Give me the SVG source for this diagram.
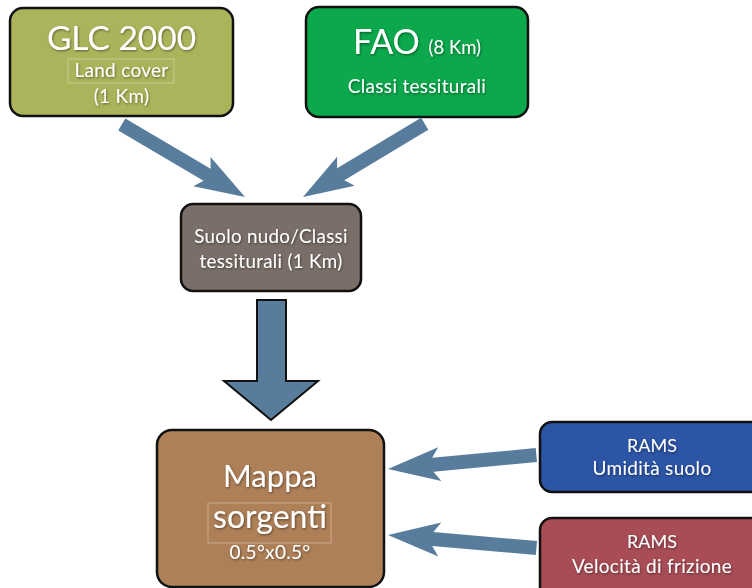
<svg xmlns="http://www.w3.org/2000/svg" width="752" height="588" viewBox="0 0 752 588">
<style>
.box{stroke:#111;stroke-width:2.5}
.t{font-family:Lato,"Open Sans","Liberation Sans",sans-serif;fill:#fff;text-anchor:middle;filter:url(#ts)}
.s{font-size:19px;letter-spacing:0.3px}
.frame{fill:none;stroke:#ffffff;stroke-opacity:0.35;stroke-width:1}
.arr{fill:#587d9c}
</style>
<defs>
<filter id="ts" x="-10%" y="-30%" width="120%" height="160%">
<feDropShadow dx="0.8" dy="1.2" stdDeviation="1" flood-color="#000" flood-opacity="0.45"/>
</filter>
</defs>
<rect width="752" height="588" fill="#fff"/>
<g id="glc">
<rect class="box" x="10" y="8" width="223" height="108" rx="13" fill="#abb45b"/>
<text class="t" x="121.5" y="50" font-size="33.5">GLC 2000</text>
<rect class="frame" x="68" y="59" width="106" height="24"/>
<text class="t s" x="121.5" y="77">Land cover</text>
<text class="t s" x="121.5" y="103">(1 Km)</text>
</g>
<g id="fao">
<rect class="box" x="306" y="7" width="222" height="110" rx="13" fill="#0ba84c"/>
<text class="t" x="417" y="54" font-size="34">FAO <tspan font-size="18.5">(8 Km)</tspan></text>
<text class="t s" x="417" y="93">Classi tessiturali</text>
</g>
<g id="suolo">
<rect class="box" x="181" y="204" width="180" height="87" rx="12" fill="#7a6e68"/>
<text class="t" x="271" y="243" font-size="18.8" letter-spacing="0.3">Suolo nudo/Classi</text>
<text class="t" x="271" y="268" font-size="18.8" letter-spacing="0.3">tessiturali (1 Km)</text>
</g>
<g id="mappa">
<rect class="box" x="157" y="430" width="227" height="157" rx="15" fill="#ad8058"/>
<text class="t" x="270" y="487" font-size="31">Mappa</text>
<rect class="frame" x="208" y="503" width="123" height="40"/>
<text class="t" x="270" y="528" font-size="32">sorgenti</text>
<text class="t s" x="270" y="559">0.5°x0.5°</text>
</g>
<g id="rams1">
<rect class="box" x="540" y="422" width="225" height="70" rx="12" fill="#2d55a6"/>
<text class="t" x="652" y="452" font-size="18">RAMS</text>
<text class="t s" x="652" y="475">Umidità suolo</text>
</g>
<g id="rams2">
<rect class="box" x="540" y="518" width="225" height="90" rx="12" fill="#a84d56"/>
<text class="t" x="652" y="548" font-size="18">RAMS</text>
<text class="t s" x="652" y="573">Velocità di frizione</text>
</g>
<g id="connectors">
<polygon class="arr" transform="translate(245,197) rotate(30.5)" points="0,0 -50,-17 -44,-7 -143,-7 -143,7 -44,7 -50,17"/>
<polygon class="arr" transform="translate(303,197) rotate(149)" points="0,0 -50,-17 -44,-7 -142,-7 -142,7 -44,7 -50,17"/>
<polygon class="arr" transform="translate(388,469) rotate(174.6)" points="0,0 -52,-17 -45,-7 -149,-7 -149,7 -45,7 -52,17"/>
<polygon class="arr" transform="translate(388,535) rotate(185)" points="0,0 -52,-17 -45,-7 -149,-7 -149,7 -45,7 -52,17"/>
<polygon class="arr" stroke="#111" stroke-width="2" stroke-linejoin="miter" points="257,300 286,300 286,381 318,381 271,420 224,381 257,381"/>
</g>
</svg>
